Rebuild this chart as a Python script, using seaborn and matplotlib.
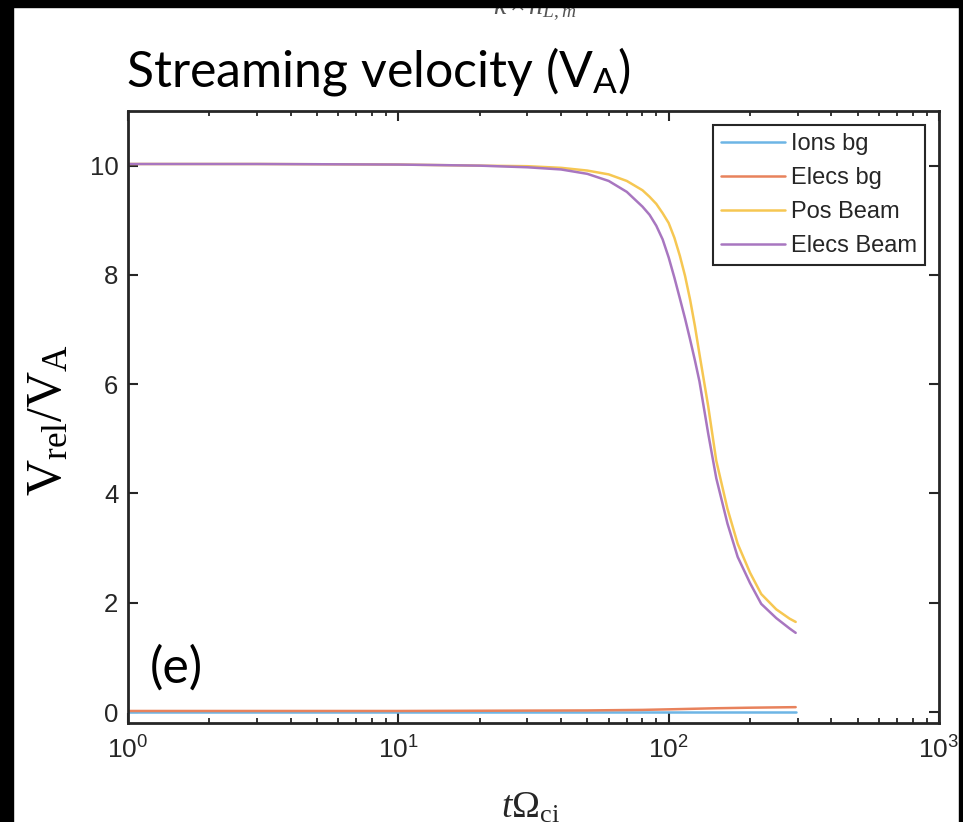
import matplotlib
matplotlib.use("Agg")
import numpy as np
import matplotlib.pyplot as plt
import seaborn as sns
from matplotlib.patches import Rectangle
from matplotlib.ticker import FuncFormatter, LogLocator

# time (t * Omega_ci) for the beam curves
t_beam = [1, 3, 10, 20, 30, 40, 50, 60, 70, 80, 85, 90, 95, 100, 105, 110, 115, 120, 125,
          130, 140, 150, 165, 180, 200, 220, 250, 280, 295]
pos_beam = [10.03, 10.03, 10.02, 10.0, 9.99, 9.96, 9.91, 9.84, 9.72, 9.55, 9.43, 9.3, 9.13, 8.95, 8.68,
            8.35, 7.98, 7.55, 7.07, 6.55, 5.6, 4.6, 3.72, 3.08, 2.55, 2.16, 1.88, 1.71, 1.65]
elecs_beam = [10.03, 10.03, 10.02, 10.0, 9.97, 9.93, 9.85, 9.72, 9.52, 9.25, 9.1, 8.9, 8.65, 8.32, 7.95,
              7.57, 7.2, 6.82, 6.44, 6.05, 5.1, 4.28, 3.45, 2.84, 2.36, 1.98, 1.72, 1.53, 1.45]

# background species
t_bg = [1, 10, 50, 80, 100, 150, 200, 295]
ions_bg = [0.01, 0.01, 0.01, 0.01, 0.01, 0.01, 0.01, 0.01]
elecs_bg = [0.02, 0.02, 0.03, 0.04, 0.05, 0.07, 0.08, 0.09]

labels = ["Ions bg", "Elecs bg", "Pos Beam", "Elecs Beam"]
colors = ["#6db5e5", "#e8825c", "#f6c752", "#a876c0"]
y_ticks = [0, 2, 4, 6, 8, 10]

sns.set_style("ticks")
plt.rcParams["font.family"] = ["Liberation Sans", "DejaVu Sans"]
plt.rcParams["mathtext.fontset"] = "custom"
plt.rcParams["mathtext.rm"] = "Liberation Serif"
plt.rcParams["mathtext.it"] = "Liberation Serif:italic"
plt.rcParams["mathtext.sf"] = "Lato"
plt.rcParams["mathtext.tt"] = "Liberation Sans"

W, H = 963, 822
fig = plt.figure(figsize=(W / 100, H / 100), dpi=100, facecolor="white")
ax = fig.add_axes([128 / W, 1 - 723 / H, (939 - 128) / W, (723 - 111) / H])

series = [(t_bg, ions_bg), (t_bg, elecs_bg), (t_beam, pos_beam), (t_beam, elecs_beam)]
for (tx, vy), lab, col in zip(series, labels, colors):
    sns.lineplot(x=tx, y=vy, color=col, linewidth=1.8, label=lab, ax=ax)

ax.set_xscale("log")
ax.set_xlim(1, 1000)
ax.set_ylim(-0.2, 11)
ax.set_yticks(y_ticks)
ax.xaxis.set_major_locator(LogLocator(base=10))
ax.xaxis.set_major_formatter(FuncFormatter(lambda v, p: r"$\mathtt{10^{%d}}$" % round(np.log10(v))))
ax.set_xlabel("")
ax.set_ylabel("")

for sp in ax.spines.values():
    sp.set_visible(True)
    sp.set_color("#262626")
    sp.set_linewidth(2)
ax.tick_params(which="both", direction="in", top=True, right=True, color="#262626")
ax.tick_params(which="major", length=7, width=1.5, labelcolor="#262626")
ax.tick_params(which="minor", length=3.5, width=1.3)
ax.tick_params(axis="y", pad=7, labelsize=18.5)
ax.tick_params(axis="x", pad=10, labelsize=19)

leg = ax.legend(loc="upper right", frameon=True, fancybox=False, edgecolor="#262626",
                framealpha=1, fontsize=17, handlelength=2.7, handletextpad=0.25,
                labelspacing=0.5, borderpad=0.35, borderaxespad=0.6)
leg.get_frame().set_linewidth(1.5)
for t in leg.get_texts():
    t.set_color("#262626")

# titles and axis labels
fig.text(126 / W, 1 - 86 / H, r"Streaming velocity (V$_{\mathsf{A}}$)", family="Lato",
         fontsize=36, ha="left", va="baseline", color="black")
fig.text(150 / W, 1 - 683 / H, "(e)", family="Lato", fontsize=36,
         ha="left", va="baseline", color="black")
fig.text(48 / W, 1 - 420 / H, r"$\mathrm{V_{rel}/V_A}$", fontsize=36, rotation=90,
         ha="center", va="center", color="black")
fig.text(531 / W, 1 - 818 / H, r"$t\Omega_{\mathrm{ci}}$", fontsize=27,
         ha="center", va="baseline", color="#262626")
fig.text(535 / W, 1 - 14 / H, r"$k \times n_{L,m}$", fontsize=20,
         ha="center", va="baseline", color="#555555")

# black frame around the screenshot
for x0, y0, w, h in [(0, 0, 13, H), (0, 0, W, 7), (959, 0, 4, H)]:
    fig.patches.append(Rectangle((x0 / W, 1 - (y0 + h) / H), w / W, h / H,
                                 transform=fig.transFigure, color="black", zorder=10))

fig.savefig("out.png", dpi=100)
